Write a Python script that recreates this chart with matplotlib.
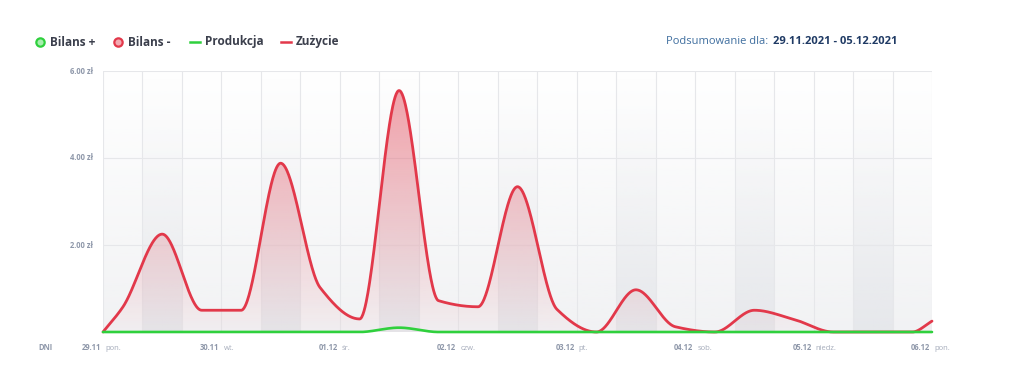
import numpy as np
import matplotlib.pyplot as plt
from matplotlib.colors import to_rgb

plt.rcParams['font.family'] = ['Open Sans', 'DejaVu Sans']

# one value per 8h block (plotted at block centre) + both ends, hours from 29.11 00:00
hours = [0, 4, 12, 20, 28, 36, 44, 52, 60, 68, 76, 84, 92, 100, 108, 116,
         124, 132, 140, 148, 156, 164, 168]
zuzycie = [0.0, 0.57, 2.25, 0.5, 0.5, 3.88, 1.02, 0.3, 5.55, 0.72, 0.58, 3.34,
           0.52, 0.0, 0.97, 0.12, 0.0, 0.5, 0.29, 0.0, 0.0, 0.0, 0.25]
produkcja = [0.0, 0.0, 0.0, 0.0, 0.0, 0.0, 0.0, 0.0, 0.1, 0.0, 0.0, 0.0,
             0.0, 0.0, 0.0, 0.0, 0.0, 0.0, 0.0, 0.0, 0.0, 0.0, 0.0]
day_dates = ['29.11', '30.11', '01.12', '02.12', '03.12', '04.12', '05.12', '06.12']
day_names = ['pon.', 'wt.', 'śr.', 'czw.', 'pt.', 'sob.', 'niedz.', 'pon.']
y_ticks = [2, 4, 6]

RED = '#e2384a'
GREEN = '#2fd03d'
GRID = '#e6e7ea'
TICK = '#8f98aa'


def monotone(x, y, xs):
    # monotone cubic, same idea as chart.js cubicInterpolationMode='monotone'
    x = np.asarray(x, float)
    y = np.asarray(y, float)
    h = np.diff(x)
    d = np.diff(y) / h
    m = np.zeros_like(y)
    for k in range(1, len(y) - 1):
        if d[k - 1] * d[k] > 0:
            w1 = 2 * h[k] + h[k - 1]
            w2 = h[k] + 2 * h[k - 1]
            m[k] = (w1 + w2) / (w1 / d[k - 1] + w2 / d[k])
    m[0], m[-1] = d[0], d[-1]
    idx = np.clip(np.searchsorted(x, xs) - 1, 0, len(h) - 1)
    t = (xs - x[idx]) / h[idx]
    h00 = 2 * t**3 - 3 * t**2 + 1
    h10 = t**3 - 2 * t**2 + t
    h01 = -2 * t**3 + 3 * t**2
    h11 = t**3 - t**2
    return h00 * y[idx] + h10 * h[idx] * m[idx] + h01 * y[idx + 1] + h11 * h[idx] * m[idx + 1]


xs = np.linspace(0, 168, 1500)
red_s = monotone(hours, zuzycie, xs)
green_s = monotone(hours, produkcja, xs)

fig = plt.figure(figsize=(10.24, 3.8), dpi=100)
ax = fig.add_axes([103 / 1024, 48 / 380, 829 / 1024, 261 / 380])
ax.set_xlim(0, 168)
ax.set_ylim(0, 6)

# background gradient
grad = np.linspace(0, 1, 256)[:, None]
bg = np.ones((256, 1, 4))
bg[..., :3] = to_rgb('#eff0f2')
bg[..., 3] = (1 - grad) * 0.85
ax.imshow(bg, extent=[0, 168, 0, 6], aspect='auto', origin='lower', zorder=0)

# darker bands in the middle of each day
for d in range(7):
    band = np.ones((256, 1, 4))
    band[..., :3] = to_rgb('#dfe1e6')
    band[..., 3] = (1 - grad) ** 1.4 * 0.6
    ax.imshow(band, extent=[d * 24 + 8, d * 24 + 16, 0, 6], aspect='auto',
              origin='lower', zorder=0.5)

for xv in range(0, 169, 8):
    ax.axvline(xv, color=GRID, lw=0.8, zorder=1)
for yv in y_ticks:
    ax.axhline(yv, color=GRID, lw=0.8, zorder=1)

# gradient fill under consumption
fill = np.ones((256, 1, 4))
fill[..., :3] = to_rgb(RED)
fill[..., 3] = np.linspace(0.02, 0.5, 256)[:, None]
poly = ax.fill_between(xs, 0, red_s, color='none', lw=0)
im = ax.imshow(fill, extent=[0, 168, 0, 6], aspect='auto', origin='lower', zorder=2)
im.set_clip_path(poly.get_paths()[0], transform=ax.transData)

ax.plot(xs, red_s, color=RED, lw=2.0, zorder=3, solid_capstyle='round', clip_on=False)
ax.plot(xs, green_s, color=GREEN, lw=1.9, zorder=4, solid_capstyle='round', clip_on=False)

ax.set_xticks([])
ax.set_yticks([])
for s in ax.spines.values():
    s.set_visible(False)

for yv in y_ticks:
    ax.text(-2, yv, f'{yv:.2f} zł', ha='right', va='center', fontsize=5.5,
            color=TICK, fontweight='bold')

lab_y = 32 / 380
for i, (dd, dn) in enumerate(zip(day_dates, day_names)):
    xp = 103 + i * 118.43
    fig.text((xp - 2) / 1024, lab_y, dd, ha='right', va='center', fontsize=5.5,
             color=TICK, fontweight='bold')
    fig.text((xp + 2) / 1024, lab_y, dn, ha='left', va='center', fontsize=5.5,
             color='#a4abba')
fig.text(38 / 1024, lab_y, 'DNI', ha='left', va='center', fontsize=5.5,
         color=TICK, fontweight='bold')

# legend
ly = 1 - 42 / 380
fig.lines.append(plt.Line2D([40 / 1024], [ly], transform=fig.transFigure, marker='o',
                            ms=6, mfc='#a7efae', mec=GREEN, mew=1.6, ls=''))
fig.text(50 / 1024, ly, 'Bilans +', ha='left', va='center', fontsize=8.5,
         fontweight='bold', color='#3b3f4c')
fig.lines.append(plt.Line2D([118 / 1024], [ly], transform=fig.transFigure, marker='o',
                            ms=6, mfc='#f3aab2', mec=RED, mew=1.6, ls=''))
fig.text(128 / 1024, ly, 'Bilans -', ha='left', va='center', fontsize=8.5,
         fontweight='bold', color='#3b3f4c')
fig.lines.append(plt.Line2D([190 / 1024, 200 / 1024], [ly, ly], transform=fig.transFigure,
                            color=GREEN, lw=1.8))
fig.text(205 / 1024, ly, 'Produkcja', ha='left', va='center', fontsize=8.5,
         fontweight='bold', color='#3b3f4c')
fig.lines.append(plt.Line2D([281 / 1024, 291 / 1024], [ly, ly], transform=fig.transFigure,
                            color=RED, lw=1.8))
fig.text(296 / 1024, ly, 'Zużycie', ha='left', va='center', fontsize=8.5,
         fontweight='bold', color='#3b3f4c')

fig.text(768 / 1024, ly, 'Podsumowanie dla:', ha='right', va='center', fontsize=8,
         color='#3f6e9f')
fig.text(773 / 1024, ly, '29.11.2021 - 05.12.2021', ha='left', va='center', fontsize=8,
         fontweight='bold', color='#1f3a64')

fig.savefig('out.png', dpi=100, facecolor='white')
